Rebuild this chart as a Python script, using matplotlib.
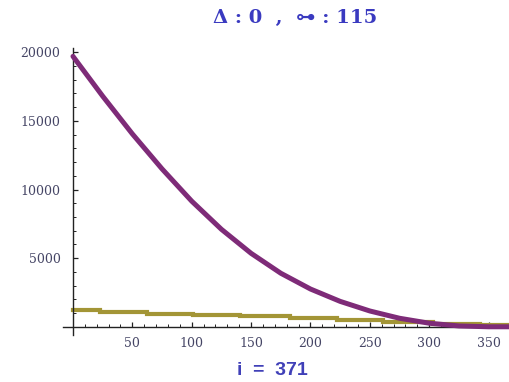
import numpy as np
import matplotlib
matplotlib.use("Agg")
from matplotlib import pyplot as plt
from matplotlib.ticker import MultipleLocator, FixedLocator

# purple curve
curve_x = [0, 25, 50, 75, 100, 125, 150, 175, 200, 225, 250, 275, 300, 325, 350, 371]
curve_y = [19700, 16800, 14050, 11500, 9150, 7100, 5350, 3900, 2750, 1850, 1150, 620, 260, 60, 0, 0]

# olive step line
step_x = [0, 23, 62, 101, 141, 183, 222, 261, 303, 343, 371]
step_y = [1200, 1050, 950, 850, 750, 620, 480, 330, 200, 100, 100]

x_ticks = [50, 100, 150, 200, 250, 300, 350]
y_ticks = [5000, 10000, 15000, 20000]

title_text = "\u0394 : 0  ,  \u22b6 : 115"
bottom_text = "i  =  371"

fig = plt.figure(figsize=(5.1, 3.82), dpi=100)
ax = fig.add_axes([0.1245, 0.123, 0.8755, 0.751])

ax.plot(step_x, step_y, drawstyle="steps-post", color="#a39536", lw=3.0,
        solid_joinstyle="miter", zorder=2)
ax.plot(curve_x, curve_y, color="#7e2b78", lw=3.6, solid_capstyle="round", zorder=3)

ax.set_xlim(-8, 368)
ax.set_ylim(-600, 20300)

ax.spines["left"].set_position(("data", 0))
ax.spines["bottom"].set_position(("data", 0))
ax.spines["top"].set_visible(False)
ax.spines["right"].set_color("#c8c8c8")
ax.spines["right"].set_linewidth(1.2)
for s in ["left", "bottom"]:
    ax.spines[s].set_color("#222222")
    ax.spines[s].set_linewidth(1.0)

ax.xaxis.set_major_locator(FixedLocator(x_ticks))
ax.xaxis.set_minor_locator(MultipleLocator(10))
ax.yaxis.set_major_locator(FixedLocator(y_ticks))
ax.yaxis.set_minor_locator(MultipleLocator(1000))

ax.tick_params(axis="both", which="major", direction="in", length=3.5, width=0.9,
               color="#222222", labelsize=9, labelcolor="#454565")
ax.tick_params(axis="both", which="minor", direction="in", length=2, width=0.7,
               color="#222222")
ax.tick_params(axis="x", pad=7)
ax.tick_params(axis="y", pad=9)
ax.set_xticklabels([str(v) for v in x_ticks], family="DejaVu Serif")
ax.set_yticklabels([str(v) for v in y_ticks], family="DejaVu Serif")

fig.text(0.578, 0.952, title_text, ha="center", va="center", fontsize=14,
         fontweight="bold", color="#3a3ac0", family=["DejaVu Serif", "DejaVu Sans"])
fig.text(0.535, 0.03, bottom_text, ha="center", va="center", fontsize=14,
         fontweight="bold", color="#4040b8", family=["Liberation Sans", "DejaVu Sans"])

fig.savefig("out.png", dpi=100)
